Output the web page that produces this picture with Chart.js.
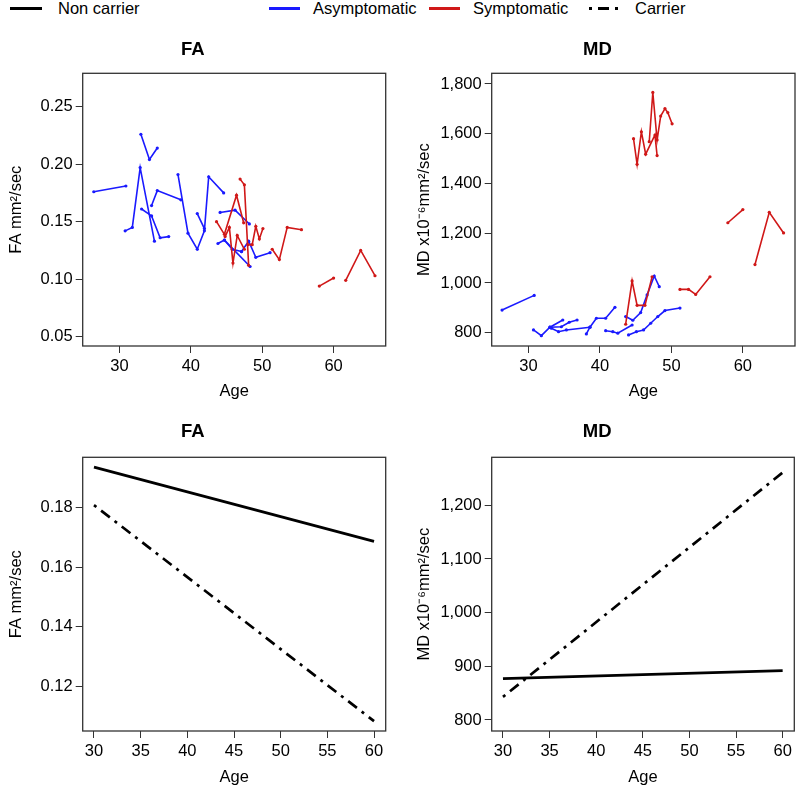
<!DOCTYPE html>
<html>
<head>
<meta charset="utf-8">
<script src="https://cdn.jsdelivr.net/npm/chart.js@4.4.1/dist/chart.umd.min.js"></script>
<style>
  body { margin: 0; background: #fff; font-family: "Liberation Sans", Arial, sans-serif; }
  #wrap { position: relative; width: 800px; height: 790px; }
  .panel { position: absolute; }
  .lg { position: absolute; font-size: 16.5px; color: #000; line-height: 17px; top: 0; }
  .sw { position: absolute; top: 7px; height: 3px; }
</style>
</head>
<body>
<div id="wrap">
  <div class="sw" style="left:10px;width:32px;background:#000"></div>
  <div class="lg" style="left:58px">Non carrier</div>
  <div class="sw" style="left:269px;width:31px;background:#1a1aff"></div>
  <div class="lg" style="left:313px">Asymptomatic</div>
  <div class="sw" style="left:429px;width:31px;background:#d01818"></div>
  <div class="lg" style="left:473px">Symptomatic</div>
  <svg style="position:absolute;left:589px;top:4px" width="34" height="8">
    <line x1="0" y1="4.5" x2="34" y2="4.5" stroke="#000" stroke-width="3" stroke-dasharray="3,6,11,6"></line>
  </svg>
  <div class="lg" style="left:635px">Carrier</div>

  <canvas class="panel" id="faRaw" width="400" height="375" style="left:0;top:30px"></canvas>
  <canvas class="panel" id="mdRaw" width="400" height="375" style="left:400px;top:30px"></canvas>
  <canvas class="panel" id="faFit" width="400" height="385" style="left:0;top:405px"></canvas>
  <canvas class="panel" id="mdFit" width="400" height="385" style="left:400px;top:405px"></canvas>
</div>
<script>
// longitudinal FA per subject, [age, FA]
const faAsymptomatic = [
  [[26.4, 0.176], [30.9, 0.181]],
  [[33.0, 0.226], [34.2, 0.204], [35.3, 0.214]],
  [[30.8, 0.142], [31.8, 0.145], [32.9, 0.197], [34.9, 0.133]],
  [[33.1, 0.161], [34.5, 0.155], [35.7, 0.136], [36.9, 0.137]],
  [[34.5, 0.164], [35.3, 0.177], [38.6, 0.169]],
  [[38.2, 0.191], [39.6, 0.140], [40.9, 0.126], [41.9, 0.142], [42.5, 0.189], [44.6, 0.175]],
  [[40.9, 0.157], [41.9, 0.144]],
  [[44.1, 0.158], [46.2, 0.160], [48.2, 0.148]],
  [[43.8, 0.131], [44.7, 0.134], [45.8, 0.126], [47.1, 0.124]],
  [[44.7, 0.134], [48.3, 0.111]],
  [[47.1, 0.124], [48.1, 0.133], [49.1, 0.119], [51.1, 0.123]]
];
const faSymptomatic = [
  [[46.9, 0.187], [47.5, 0.182], [48.1, 0.112]],
  [[43.6, 0.150], [44.7, 0.139], [46.4, 0.173], [47.4, 0.149]],
  [[44.8, 0.137], [45.4, 0.145], [45.9, 0.114], [46.5, 0.138], [47.5, 0.126]],
  [[48.0, 0.130], [48.6, 0.130], [49.1, 0.146], [49.6, 0.135], [50.1, 0.144]],
  [[51.4, 0.126], [52.4, 0.117], [53.5, 0.145], [55.5, 0.143]],
  [[58.0, 0.094], [60.0, 0.101]],
  [[61.7, 0.099], [63.8, 0.125], [65.8, 0.103]]
];
// longitudinal MD per subject, [age, MD x10^-6]
const mdAsymptomatic = [
  [[26.3, 891], [30.8, 950]],
  [[30.7, 811], [31.8, 788], [33.0, 822], [34.8, 851]],
  [[33.0, 822], [34.6, 824], [35.7, 842], [36.8, 851]],
  [[33.2, 818], [34.2, 804], [35.3, 811], [38.6, 822]],
  [[38.1, 795], [38.6, 822], [39.5, 858], [40.8, 858], [42.1, 902]],
  [[40.8, 808], [41.8, 804], [42.5, 798], [44.5, 831]],
  [[43.6, 865], [44.6, 850], [45.7, 881], [46.6, 952], [47.6, 1028], [48.3, 985]],
  [[44.0, 791], [45.1, 804], [46.1, 811], [47.1, 838], [48.1, 865], [49.1, 889], [51.2, 899]]
];
const mdSymptomatic = [
  [[44.7, 1580], [45.2, 1477], [45.8, 1608], [46.4, 1518], [47.7, 1595], [48.0, 1512]],
  [[46.9, 1568], [47.4, 1766], [48.0, 1575], [48.5, 1671], [49.1, 1701], [49.5, 1685], [50.1, 1640]],
  [[43.6, 834], [44.5, 1008], [45.2, 910], [46.3, 910], [47.3, 1025]],
  [[51.2, 974], [52.4, 974], [53.4, 954], [55.4, 1025]],
  [[57.9, 1242], [60.0, 1295]],
  [[61.7, 1074], [63.7, 1284], [65.7, 1201]]
];
// fitted trajectories
const fitAges = [30, 60];
const faNonCarrierFit = [0.1934, 0.1686];
const faCarrierFit = [0.1807, 0.1085];
const mdNonCarrierFit = [877, 892];
const mdCarrierFit = [843, 1261];

const ageTicksRaw = [30, 40, 50, 60];
const ageTicksFit = [30, 35, 40, 45, 50, 55, 60];
const faTicksRaw = [0.05, 0.10, 0.15, 0.20, 0.25];
const mdTicksRaw = [800, 1000, 1200, 1400, 1600, 1800];
const faTicksFit = [0.12, 0.14, 0.16, 0.18];
const mdTicksFit = [800, 900, 1000, 1100, 1200];

const BLUE = '#1a1aff', RED = '#d01818';
const FONT = '"Liberation Sans", Arial, sans-serif';

const frame = {
  id: 'frame',
  afterDraw(chart) {
    const a = chart.chartArea, c = chart.ctx;
    c.save();
    c.strokeStyle = '#333';
    c.lineWidth = 1.3;
    c.strokeRect(a.left, a.top, a.right - a.left, a.bottom - a.top);
    c.restore();
  }
};

function subjects(list, color) {
  return list.map(s => ({
    data: s.map(p => ({x: p[0], y: p[1]})),
    showLine: true,
    borderColor: color,
    backgroundColor: color,
    borderWidth: 1.6,
    pointRadius: 1.6,
    pointBorderWidth: 0
  }));
}

function fitLine(vals, dash) {
  return {
    data: fitAges.map((a, i) => ({x: a, y: vals[i]})),
    showLine: true,
    borderColor: '#000',
    borderWidth: 2.7,
    borderDash: dash,
    pointRadius: 0
  };
}

function panel(id, o) {
  const tickFont = {family: FONT, size: 16.5};
  const grid = {drawOnChartArea: false, drawTicks: true, tickLength: 7, color: '#333', lineWidth: 1};
  new Chart(document.getElementById(id), {
    type: 'scatter',
    data: {datasets: o.datasets},
    options: {
      responsive: false,
      animation: false,
      layout: {padding: {right: o.padRight}},
      plugins: {
        legend: {display: false},
        tooltip: {enabled: false},
        title: {
          display: true, text: o.title, color: '#000',
          font: {family: FONT, size: 18.5, weight: 'bold'},
          padding: {top: o.titleTop, bottom: o.titleBottom}
        }
      },
      scales: {
        x: {
          type: 'linear', min: o.xMin, max: o.xMax,
          afterBuildTicks: s => { s.ticks = o.xTicks.map(v => ({value: v})); },
          afterFit: s => { s.height = o.xHeight; },
          grid: grid, border: {display: false},
          ticks: {color: '#000', font: tickFont, padding: 4, maxRotation: 0, autoSkip: false},
          title: {display: true, text: 'Age', color: '#000', font: {family: FONT, size: 16.5}, padding: {top: 0, bottom: o.xTitleBottom}}
        },
        y: {
          type: 'linear', min: o.yMin, max: o.yMax,
          afterBuildTicks: s => { s.ticks = o.yTicks.map(v => ({value: v})); },
          afterFit: s => { s.width = o.yWidth; },
          grid: grid, border: {display: false},
          ticks: {color: '#000', font: tickFont, padding: 3, autoSkip: false, callback: o.fmt},
          title: {display: true, text: o.yTitle, color: '#000', font: {family: FONT, size: 16.5}, padding: {top: o.yTitleLeft, bottom: 0}}
        }
      }
    },
    plugins: [frame]
  });
}

const fmt2 = v => v.toFixed(2);
const fmtComma = v => v.toLocaleString('en-US');

panel('faRaw', {
  title: 'FA', titleTop: 8.5, titleBottom: 12.6,
  datasets: subjects(faSymptomatic, RED).concat(subjects(faAsymptomatic, BLUE)),
  xMin: 24.85, xMax: 67.3, xTicks: ageTicksRaw, xHeight: 59, xTitleBottom: 3.3,
  yMin: 0.0419, yMax: 0.279, yTicks: faTicksRaw, yWidth: 82.7, yTitleLeft: 6.7,
  yTitle: 'FA mm²/sec', fmt: fmt2, padRight: 14.3
});
panel('mdRaw', {
  title: 'MD', titleTop: 8.5, titleBottom: 12.6,
  datasets: subjects(mdSymptomatic, RED).concat(subjects(mdAsymptomatic, BLUE)),
  xMin: 24.85, xMax: 67.3, xTicks: ageTicksRaw, xHeight: 59, xTitleBottom: 3.3,
  yMin: 746.5, yMax: 1843, yTicks: mdTicksRaw, yWidth: 91.7, yTitleLeft: 15,
  yTitle: 'MD x10⁻⁶mm²/sec', fmt: fmtComma, padRight: 5
});
panel('faFit', {
  title: 'FA', titleTop: 16, titleBottom: 14.1,
  datasets: [fitLine(faNonCarrierFit, []), fitLine(faCarrierFit, [3, 6, 11, 6])],
  xMin: 28.79, xMax: 61.25, xTicks: ageTicksFit, xHeight: 59, xTitleBottom: 2.3,
  yMin: 0.1052, yMax: 0.1967, yTicks: faTicksFit, yWidth: 82.7, yTitleLeft: 6.7,
  yTitle: 'FA mm²/sec', fmt: fmt2, padRight: 14.3
});
panel('mdFit', {
  title: 'MD', titleTop: 16, titleBottom: 14.1,
  datasets: [fitLine(mdNonCarrierFit, []), fitLine(mdCarrierFit, [3, 6, 11, 6])],
  xMin: 28.79, xMax: 61.25, xTicks: ageTicksFit, xHeight: 59, xTitleBottom: 2.3,
  yMin: 779.5, yMax: 1289.4, yTicks: mdTicksFit, yWidth: 91.7, yTitleLeft: 15,
  yTitle: 'MD x10⁻⁶mm²/sec', fmt: fmtComma, padRight: 5.7
});
</script>
</body>
</html>
